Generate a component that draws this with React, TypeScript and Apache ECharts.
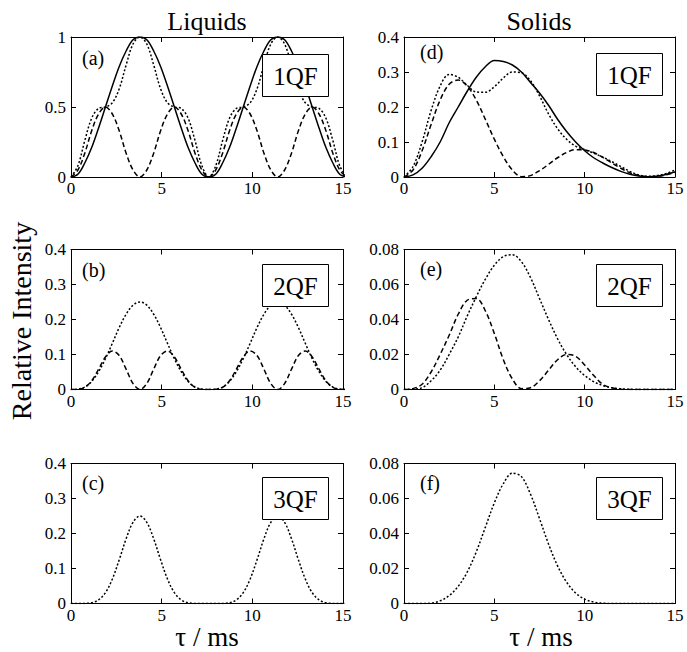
import React, { useEffect, useRef } from "react";
import * as echarts from "echarts";

// ---- data ----
const tauL = [0, 0.38, 0.76, 1.14, 1.52, 1.9, 2.28, 2.66, 3.04, 3.42, 3.8, 4.18, 4.56, 4.94, 5.32, 5.7, 6.08, 6.46, 6.84, 7.22, 7.6, 7.98, 8.36, 8.74, 9.12, 9.5, 9.88, 10.26, 10.64, 11.02, 11.4, 11.78, 12.16, 12.54, 12.92, 13.3, 13.68, 14.06, 14.44, 14.82, 15.2];
const tauS = [0, 0.5, 1, 1.5, 2, 2.5, 3, 3.5, 4, 4.5, 5, 5.5, 6, 6.5, 7, 7.5, 8, 8.5, 9, 9.5, 10, 10.5, 11, 11.5, 12, 12.5, 13, 13.5, 14, 14.5, 15];

// (a) liquids 1QF
const aSolid = [0, .02, .10, .21, .35, .50, .65, .79, .90, .98, 1, .98, .90, .79, .65, .50, .35, .21, .10, .02, 0, .02, .10, .21, .35, .50, .65, .79, .90, .98, 1, .98, .90, .79, .65, .50, .35, .21, .10, .02, 0];
const aDashed = [0, .05, .17, .33, .45, .50, .45, .33, .17, .05, 0, .05, .17, .33, .45, .50, .45, .33, .17, .05, 0, .05, .17, .33, .45, .50, .45, .33, .17, .05, 0, .05, .17, .33, .45, .50, .45, .33, .17, .05, 0];
const aDotted = [0, .08, .26, .42, .49, .50, .53, .63, .80, .95, 1, .95, .80, .63, .53, .50, .49, .42, .26, .08, 0, .08, .26, .42, .49, .50, .53, .63, .80, .95, 1, .95, .80, .63, .53, .50, .49, .42, .26, .08, 0];
// (b) liquids 2QF
const bDashed = [0, .0005, .006, .025, .058, .093, .11, .097, .058, .017, 0, .017, .058, .097, .11, .093, .058, .025, .006, .0005, 0, .0005, .006, .025, .058, .093, .11, .097, .058, .017, 0, .017, .058, .097, .11, .093, .058, .025, .006, .0005, 0];
const bDotted = [0, .001, .007, .023, .051, .088, .132, .177, .215, .241, .25, .241, .215, .177, .132, .088, .051, .023, .007, .001, 0, .001, .007, .023, .051, .088, .132, .177, .215, .241, .25, .241, .215, .177, .132, .088, .051, .023, .007, .001, 0];
// (c) liquids 3QF
const cDotted = [0, 0, .0002, .0022, .0103, .031, .070, .125, .185, .232, .25, .232, .185, .125, .070, .031, .0103, .0022, .0002, 0, 0, 0, .0002, .0022, .0103, .031, .070, .125, .185, .232, .25, .232, .185, .125, .070, .031, .0103, .0022, .0002, 0, 0];
// (d) solids 1QF
const dSolid = [0, .006, .025, .058, .1, .155, .2, .245, .285, .315, .333, .33, .32, .3, .27, .24, .205, .165, .13, .1, .075, .055, .04, .027, .016, .008, .003, .001, .002, .007, .015];
const dDotted = [0, .03, .1, .19, .26, .293, .285, .262, .243, .242, .258, .283, .3, .298, .275, .232, .18, .138, .108, .088, .078, .068, .057, .044, .03, .016, .006, .002, .004, .01, .02];
const dDashed = [0, .02, .075, .15, .22, .265, .277, .26, .22, .165, .108, .058, .02, .001, .004, .018, .036, .055, .07, .078, .077, .07, .056, .04, .025, .012, .004, .001, .002, .006, .013];
// (e) solids 2QF
const eDotted = [0, .0002, .001, .005, .011, .02, .03, .042, .053, .063, .071, .076, .077, .073, .064, .052, .04, .029, .02, .013, .008, .0045, .0022, .001, .0004, .0001, 0, 0, 0, 0, 0];
const eDashed = [0, .0005, .003, .01, .02, .031, .043, .051, .052, .045, .032, .017, .006, .0005, .001, .005, .011, .017, .02, .019, .014, .008, .003, .001, .0002, 0, 0, 0, 0, 0, 0];
// (f) solids 3QF
const fDotted = [0, 0, 0, .0002, .0015, .0045, .0098, .018, .0295, .0435, .0575, .0685, .0745, .0725, .0625, .0485, .034, .0215, .0122, .006, .0025, .0008, .0002, 0, 0, 0, 0, 0, 0, 0, 0];

const filterLabels = ["1QF", "2QF", "3QF", "1QF", "2QF", "3QF"];
const panelLetters = ["(a)", "(b)", "(c)", "(d)", "(e)", "(f)"];
const columnTitles = ["Liquids", "Solids"];
const yAxisTitle = "Relative Intensity";
const xAxisTitle = "τ / ms";

const FONT = "Liberation Serif";

type Curve = { tau: number[]; v: number[]; kind: "solid" | "dashed" | "dotted" };

const panels = [
  { left: 71, top: 37, width: 272, ymax: 1, yint: 0.5, box: [262, 54], letter: [82, 58],
    curves: [{ tau: tauL, v: aSolid, kind: "solid" }, { tau: tauL, v: aDotted, kind: "dotted" }, { tau: tauL, v: aDashed, kind: "dashed" }] as Curve[] },
  { left: 71, top: 249.5, width: 272, ymax: 0.4, yint: 0.1, box: [262, 264], letter: [82, 270],
    curves: [{ tau: tauL, v: bDotted, kind: "dotted" }, { tau: tauL, v: bDashed, kind: "dashed" }] as Curve[] },
  { left: 71, top: 463.5, width: 272, ymax: 0.4, yint: 0.1, box: [262, 477], letter: [82, 483],
    curves: [{ tau: tauL, v: cDotted, kind: "dotted" }] as Curve[] },
  { left: 404, top: 37, width: 271, ymax: 0.4, yint: 0.1, box: [596, 53], letter: [420, 52],
    curves: [{ tau: tauS, v: dSolid, kind: "solid" }, { tau: tauS, v: dDotted, kind: "dotted" }, { tau: tauS, v: dDashed, kind: "dashed" }] as Curve[] },
  { left: 404, top: 249.5, width: 271, ymax: 0.08, yint: 0.02, box: [596, 264], letter: [420, 269],
    curves: [{ tau: tauS, v: eDotted, kind: "dotted" }, { tau: tauS, v: eDashed, kind: "dashed" }] as Curve[] },
  { left: 404, top: 463.5, width: 271, ymax: 0.08, yint: 0.02, box: [596, 477], letter: [420, 483],
    curves: [{ tau: tauS, v: fDotted, kind: "dotted" }] as Curve[] },
];

const fmt = (v: number) => (v === 0 ? "0" : String(+v.toFixed(2)));

export default function App() {
  const ref = useRef<HTMLDivElement>(null);
  useEffect(() => {
    if (!ref.current) return;
    const chart = echarts.init(ref.current, undefined, { renderer: "svg" });
    const H = 140;
    const grid = panels.map((p) => ({ left: p.left, top: p.top, width: p.width, height: H, containLabel: false }));
    const tickStyle = { show: true, inside: true, length: 5, lineStyle: { color: "#000", width: 1 } };
    const lineStyle = { show: true, lineStyle: { color: "#000", width: 1 } };
    const labelStyle = { color: "#000", fontFamily: FONT, fontSize: 17 };
    const xAxis: any[] = [];
    const yAxis: any[] = [];
    panels.forEach((p, i) => {
      xAxis.push({ type: "value", gridIndex: i, min: 0, max: 15, interval: 5, position: "bottom",
        axisLine: { ...lineStyle, onZero: false }, axisTick: tickStyle, splitLine: { show: false },
        axisLabel: { ...labelStyle, margin: 3, formatter: fmt } });
    });
    panels.forEach((p, i) => {
      xAxis.push({ type: "value", gridIndex: i, min: 0, max: 15, interval: 5, position: "top",
        axisLine: { ...lineStyle, onZero: false }, axisTick: tickStyle, splitLine: { show: false },
        axisLabel: { show: false } });
    });
    panels.forEach((p, i) => {
      yAxis.push({ type: "value", gridIndex: i, min: 0, max: p.ymax, interval: p.yint, position: "left",
        axisLine: { ...lineStyle, onZero: false }, axisTick: tickStyle, splitLine: { show: false },
        axisLabel: { ...labelStyle, margin: 5, formatter: fmt } });
    });
    panels.forEach((p, i) => {
      yAxis.push({ type: "value", gridIndex: i, min: 0, max: p.ymax, interval: p.yint, position: "right",
        axisLine: { ...lineStyle, onZero: false }, axisTick: tickStyle, splitLine: { show: false },
        axisLabel: { show: false } });
    });
    const dash: Record<string, any> = { solid: "solid", dashed: [5, 3], dotted: [2, 2] };
    const series: any[] = [];
    panels.forEach((p, i) => {
      p.curves.forEach((c) => {
        series.push({
          type: "line", xAxisIndex: i, yAxisIndex: i, silent: true,
          data: c.tau.map((t, k) => [t, c.v[k]]),
          symbol: "none", showSymbol: false, smooth: 0.35, clip: true,
          lineStyle: { color: "#000", width: 1.5, type: dash[c.kind] },
        });
      });
    });
    const graphic: any[] = [];
    const txt = (text: string, x: number, y: number, size: number, extra: any = {}) => ({
      type: "text", x, y, z: 100, ...extra,
      style: { text, fontFamily: FONT, fontSize: size, fill: "#000", align: "center", verticalAlign: "middle",
        textAlign: "center", textVerticalAlign: "middle" },
    });
    graphic.push(txt(columnTitles[0], 207, 21, 26));
    graphic.push(txt(columnTitles[1], 539, 21, 26));
    graphic.push(txt(xAxisTitle, 207, 637, 27));
    graphic.push(txt(xAxisTitle, 541, 637, 27));
    graphic.push(txt(yAxisTitle, 21, 321, 28, { rotation: Math.PI / 2 }));
    panels.forEach((p, i) => {
      const [bx, by] = p.box;
      graphic.push({ type: "rect", z: 99, shape: { x: bx + 0.5, y: by + 0.5, width: 66, height: 42 },
        style: { fill: "#fff", stroke: "#000", lineWidth: 1 } });
      graphic.push(txt(filterLabels[i], bx + 33.5, by + 22, 25));
      graphic.push({ type: "text", x: p.letter[0], y: p.letter[1], z: 100,
        style: { text: panelLetters[i], fontFamily: FONT, fontSize: 20, fill: "#000", align: "left", verticalAlign: "middle",
          textAlign: "left", textVerticalAlign: "middle" } });
    });
    chart.setOption({ animation: false, backgroundColor: "#fff", grid, xAxis, yAxis, series, graphic });
    return () => chart.dispose();
  }, []);
  return <div ref={ref} style={{ position: "absolute", left: 0, top: 0, width: 687, height: 652, background: "#fff" }} />;
}
